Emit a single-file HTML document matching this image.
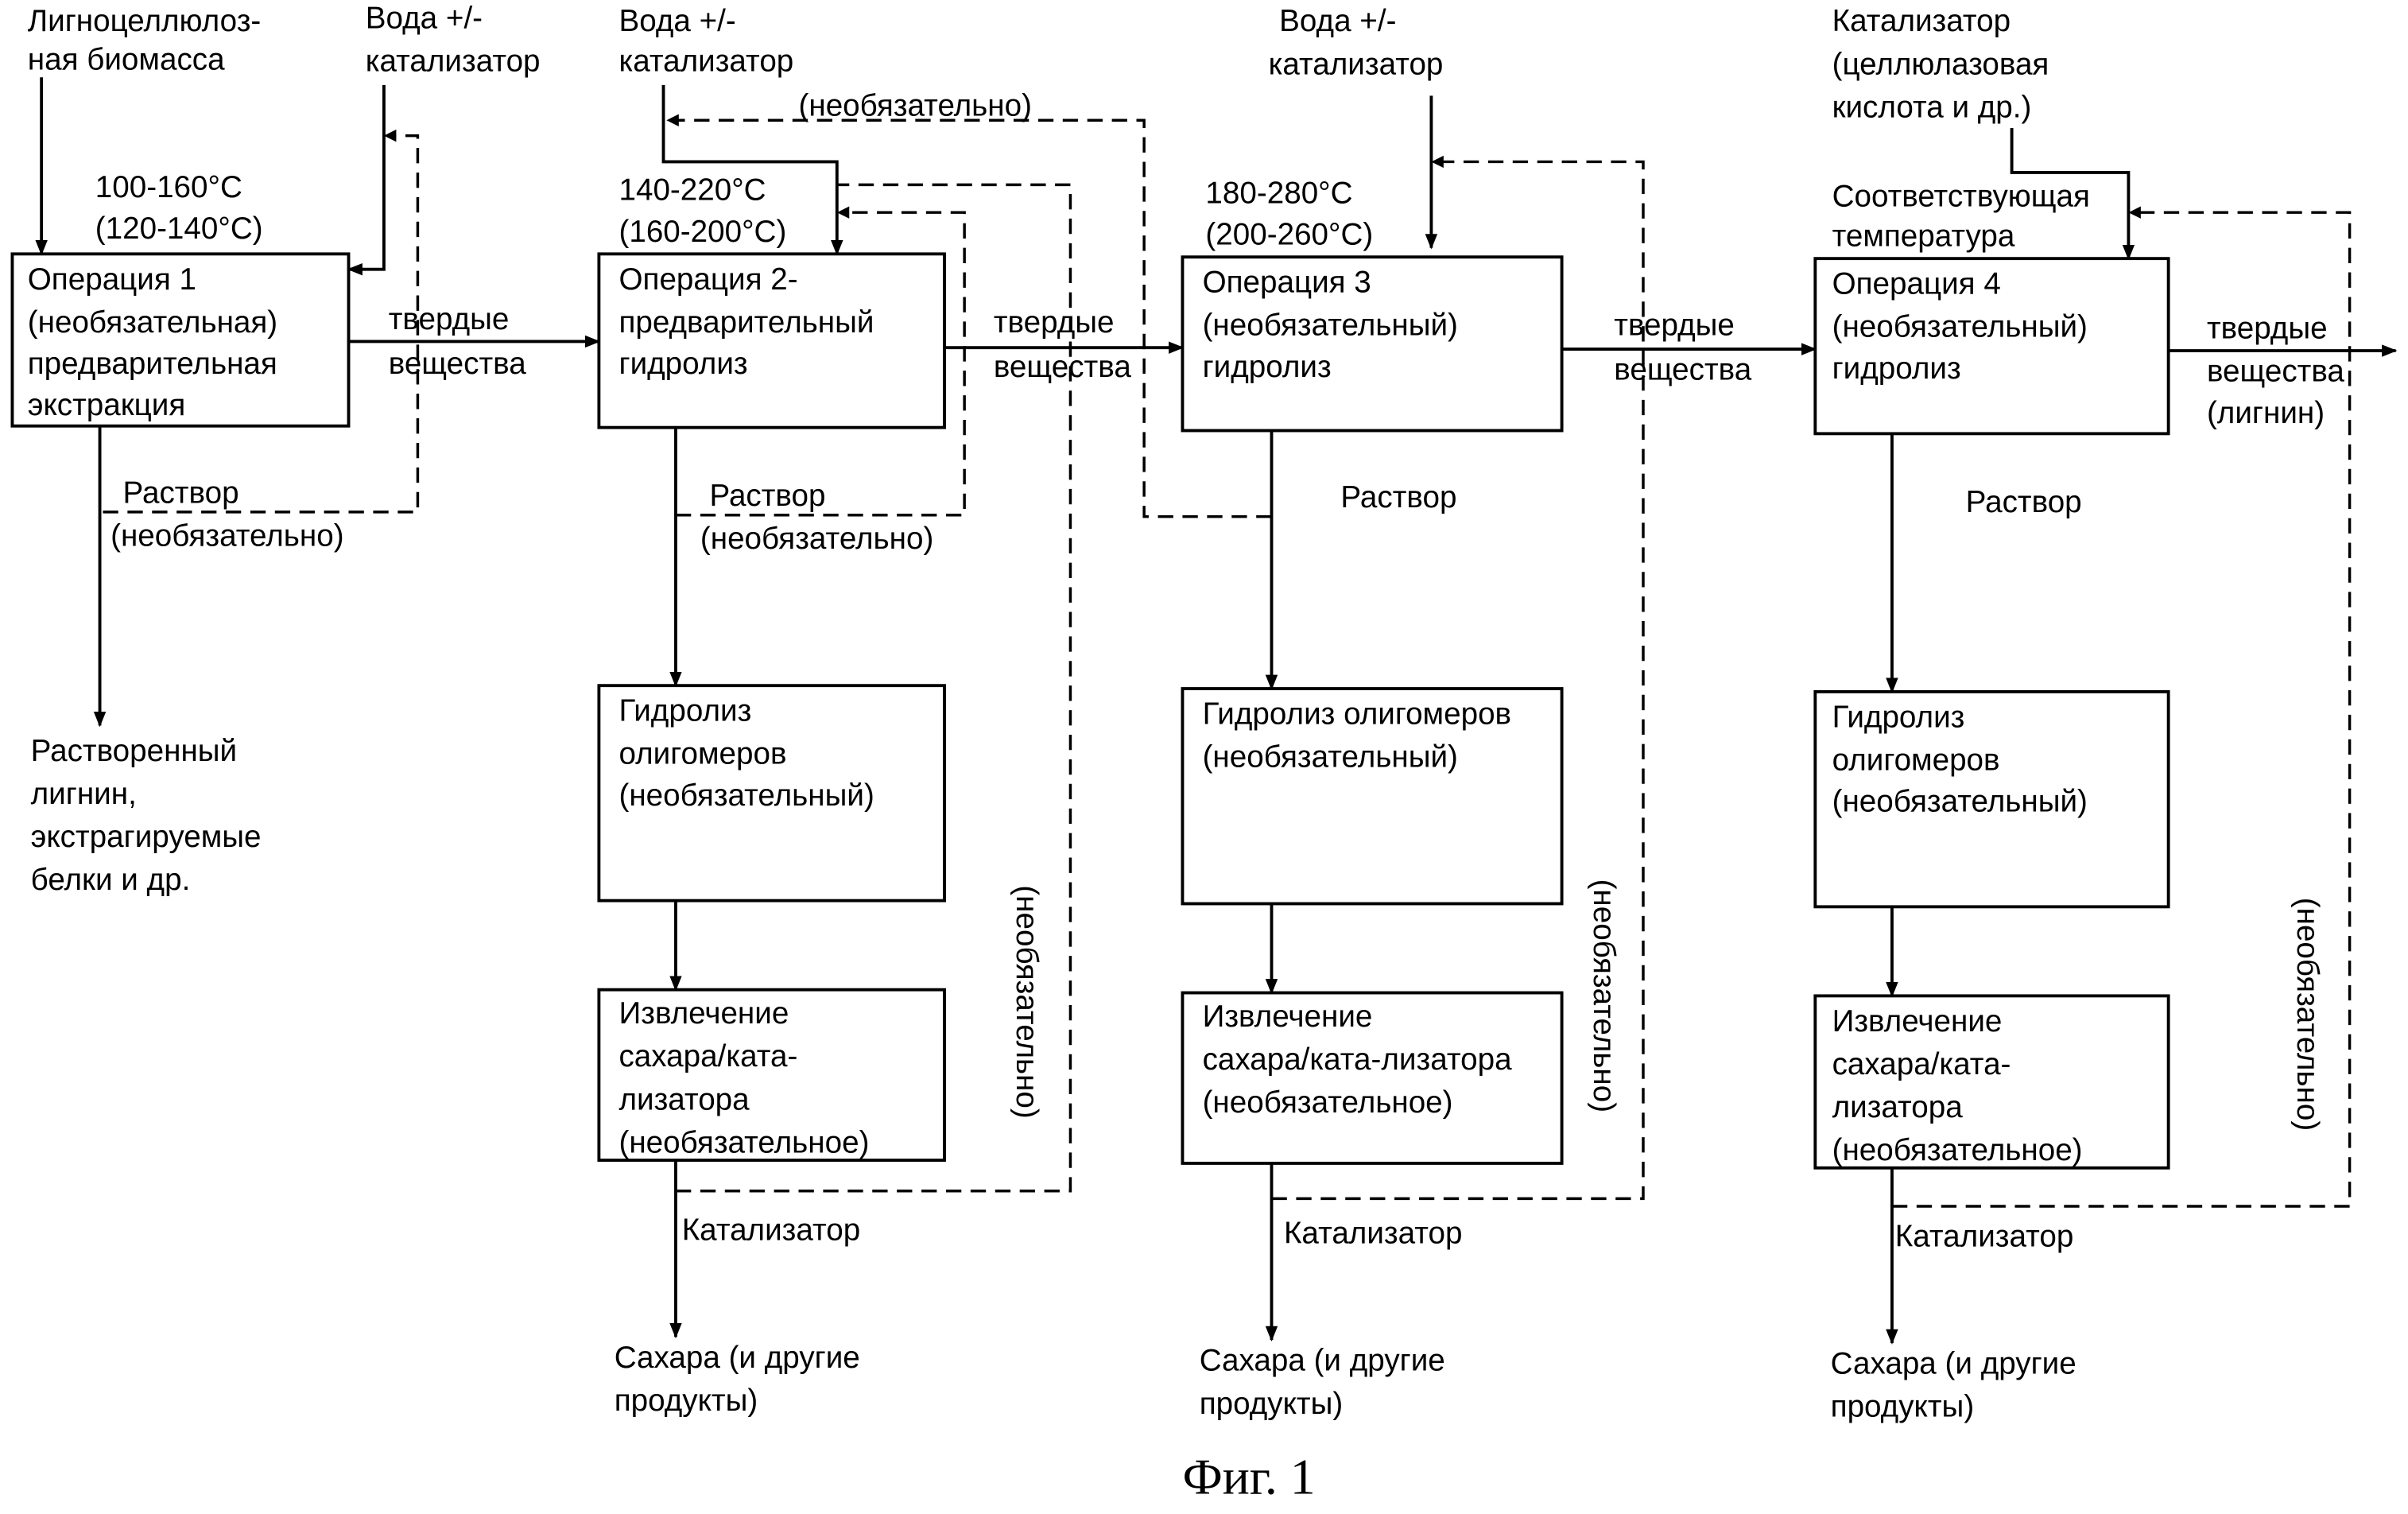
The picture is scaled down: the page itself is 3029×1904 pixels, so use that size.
<!DOCTYPE html>
<html><head><meta charset="utf-8">
<style>
html,body{margin:0;padding:0;background:#fff;}
svg{display:block;}
text{font-family:"Liberation Sans","DejaVu Sans",sans-serif;font-size:20px;fill:#000;}
.s{stroke:#000;stroke-width:2;fill:none;}
.d{stroke:#000;stroke-width:1.8;fill:none;stroke-dasharray:10,6;}
.b{stroke:#000;stroke-width:2;fill:#fff;}
</style></head>
<body>
<svg width="3029" height="1904" viewBox="0 0 1568 985" xmlns="http://www.w3.org/2000/svg">
<defs>
<marker id="a" markerWidth="10" markerHeight="10" refX="9" refY="5" orient="auto" markerUnits="userSpaceOnUse"><path d="M0,1 L10,5 L0,9 Z" fill="#000"/></marker>
</defs>
<rect class="b" x="8" y="165" width="219" height="112"/>
<rect class="b" x="390" y="165" width="225" height="113"/>
<rect class="b" x="770" y="167" width="247" height="113"/>
<rect class="b" x="1182" y="168" width="230" height="114"/>
<rect class="b" x="390" y="446" width="225" height="140"/>
<rect class="b" x="770" y="448" width="247" height="140"/>
<rect class="b" x="1182" y="450" width="230" height="140"/>
<rect class="b" x="390" y="644" width="225" height="111"/>
<rect class="b" x="770" y="646" width="247" height="111"/>
<rect class="b" x="1182" y="648" width="230" height="112"/>

<path class="s" d="M27,50 V165" marker-end="url(#a)"/>
<path class="s" d="M250,55 V175 H227" marker-end="url(#a)"/>
<path class="s" d="M227,222 H390" marker-end="url(#a)"/>
<path class="s" d="M65,277 V472" marker-end="url(#a)"/>
<path class="s" d="M432,55 V105 H545 V165" marker-end="url(#a)"/>
<path class="s" d="M440,278 V446" marker-end="url(#a)"/>
<path class="s" d="M440,586 V644" marker-end="url(#a)"/>
<path class="s" d="M440,755 V870" marker-end="url(#a)"/>
<path class="s" d="M615,226 H770" marker-end="url(#a)"/>
<path class="s" d="M932,62 V161" marker-end="url(#a)"/>
<path class="s" d="M828,280 V448" marker-end="url(#a)"/>
<path class="s" d="M828,588 V646" marker-end="url(#a)"/>
<path class="s" d="M828,757 V872" marker-end="url(#a)"/>
<path class="s" d="M1017,227 H1182" marker-end="url(#a)"/>
<path class="s" d="M1310,83 V112 H1386 V168" marker-end="url(#a)"/>
<path class="s" d="M1232,282 V450" marker-end="url(#a)"/>
<path class="s" d="M1232,590 V648" marker-end="url(#a)"/>
<path class="s" d="M1232,760 V874" marker-end="url(#a)"/>
<path class="s" d="M1412,228 H1560" marker-end="url(#a)"/>

<path class="d" d="M67,333 H272 V88 H252"/>
<path d="M250,88 l8,-4 v8z" fill="#000"/>
<path class="d" d="M440,335 H628 V138 H547"/>
<path d="M545,138 l8,-4 v8z" fill="#000"/>
<path class="d" d="M828,336 H745 V78 H436"/>
<path d="M434,78 l8,-4 v8z" fill="#000"/>
<path class="d" d="M440,775 H697 V120 H545"/>
<path class="d" d="M828,780 H1070 V105 H934"/>
<path d="M932,105 l8,-4 v8z" fill="#000"/>
<path class="d" d="M1232,785 H1530 V138 H1388"/>
<path d="M1386,138 l8,-4 v8z" fill="#000"/>

<text x="18" y="20">Лигноцеллюлоз-</text>
<text x="18" y="45">ная биомасса</text>
<text x="238" y="18">Вода +/-</text>
<text x="238" y="46">катализатор</text>
<text x="62" y="128">100-160°C</text>
<text x="62" y="155">(120-140°C)</text>
<text x="403" y="20">Вода +/-</text>
<text x="403" y="46">катализатор</text>
<text x="520" y="75">(необязательно)</text>
<text x="403" y="130">140-220°C</text>
<text x="403" y="157">(160-200°C)</text>
<text x="833" y="20">Вода +/-</text>
<text x="826" y="48">катализатор</text>
<text x="785" y="132">180-280°C</text>
<text x="785" y="159">(200-260°C)</text>
<text x="1193" y="20">Катализатор</text>
<text x="1193" y="48">(целлюлазовая</text>
<text x="1193" y="76">кислота и др.)</text>
<text x="1193" y="134">Соответствующая</text>
<text x="1193" y="160">температура</text>

<text x="18" y="188">Операция 1</text>
<text x="18" y="216">(необязательная)</text>
<text x="18" y="243">предварительная</text>
<text x="18" y="270">экстракция</text>
<text x="403" y="188">Операция 2-</text>
<text x="403" y="216">предварительный</text>
<text x="403" y="243">гидролиз</text>
<text x="783" y="190">Операция 3</text>
<text x="783" y="218">(необязательный)</text>
<text x="783" y="245">гидролиз</text>
<text x="1193" y="191">Операция 4</text>
<text x="1193" y="219">(необязательный)</text>
<text x="1193" y="246">гидролиз</text>

<text x="403" y="469">Гидролиз</text>
<text x="403" y="497">олигомеров</text>
<text x="403" y="524">(необязательный)</text>
<text x="783" y="471">Гидролиз олигомеров</text>
<text x="783" y="499">(необязательный)</text>
<text x="1193" y="473">Гидролиз</text>
<text x="1193" y="501">олигомеров</text>
<text x="1193" y="528">(необязательный)</text>

<text x="403" y="666">Извлечение</text>
<text x="403" y="694">сахара/ката-</text>
<text x="403" y="722">лизатора</text>
<text x="403" y="750">(необязательное)</text>
<text x="783" y="668">Извлечение</text>
<text x="783" y="696">сахара/ката-лизатора</text>
<text x="783" y="724">(необязательное)</text>
<text x="1193" y="671">Извлечение</text>
<text x="1193" y="699">сахара/ката-</text>
<text x="1193" y="727">лизатора</text>
<text x="1193" y="755">(необязательное)</text>

<text x="253" y="214">твердые</text>
<text x="253" y="243">вещества</text>
<text x="647" y="216">твердые</text>
<text x="647" y="245">вещества</text>
<text x="1051" y="218">твердые</text>
<text x="1051" y="247">вещества</text>
<text x="1437" y="220">твердые</text>
<text x="1437" y="248">вещества</text>
<text x="1437" y="275">(лигнин)</text>

<text x="80" y="327">Раствор</text>
<text x="72" y="355">(необязательно)</text>
<text x="462" y="329">Раствор</text>
<text x="456" y="357">(необязательно)</text>
<text x="873" y="330">Раствор</text>
<text x="1280" y="333">Раствор</text>

<text x="20" y="495">Растворенный</text>
<text x="20" y="523">лигнин,</text>
<text x="20" y="551">экстрагируемые</text>
<text x="20" y="579">белки и др.</text>

<text transform="translate(662,576) rotate(90)">(необязательно)</text>
<text transform="translate(1038,572) rotate(90)">(необязательно)</text>
<text transform="translate(1496,584) rotate(90)">(необязательно)</text>

<text x="444" y="807">Катализатор</text>
<text x="836" y="809">Катализатор</text>
<text x="1234" y="811">Катализатор</text>

<text x="400" y="890">Сахара (и другие</text>
<text x="400" y="918">продукты)</text>
<text x="781" y="892">Сахара (и другие</text>
<text x="781" y="920">продукты)</text>
<text x="1192" y="894">Сахара (и другие</text>
<text x="1192" y="922">продукты)</text>

<text x="770" y="972" style="font-family:'Liberation Serif',serif;font-size:33px;">Фиг. 1</text>
</svg>
</body></html>
